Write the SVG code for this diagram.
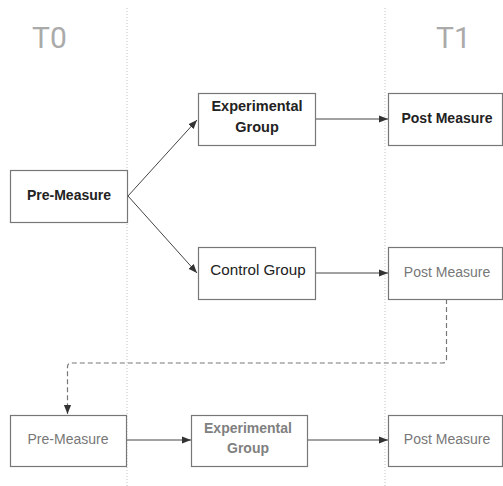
<svg xmlns="http://www.w3.org/2000/svg" width="503" height="486" viewBox="0 0 503 486">
  <defs>
    <marker id="arrow" viewBox="0 0 10 10" refX="10" refY="5" markerWidth="9" markerHeight="9" markerUnits="userSpaceOnUse" orient="auto">
      <path d="M0,1 L10,5 L0,9 Z" fill="#333"/>
    </marker>
    <style>
      .box { fill: #fff; stroke: #777; stroke-width: 1.2; }
      .lbl { font-family: "Liberation Sans", Arial, sans-serif; font-size: 14px; text-anchor: middle; dominant-baseline: central; }
      .dark { fill: #222; }
      .bold { font-weight: bold; }
      .grey { fill: #777; }
      .semi { font-weight: 600; fill: #808080; }
      .time { font-family: Roboto, "Liberation Sans", sans-serif; font-weight: 400; font-size: 30px; fill: #aaa; }
      .lane { stroke: #c4c4c4; stroke-width: 1; stroke-dasharray: 1 2; }
      .edge { fill: none; stroke: #444; stroke-width: 1; marker-end: url(#arrow); }
      .dash { fill: none; stroke: #777; stroke-width: 1.2; stroke-dasharray: 5 3; marker-end: url(#arrow); }
    </style>
  </defs>
  <rect width="503" height="486" fill="#fff"/>

  <!-- time lanes -->
  <g id="lanes">
    <line class="lane" x1="127" y1="8" x2="127" y2="486"/>
    <line class="lane" x1="385" y1="8" x2="385" y2="486"/>
    <text class="time" x="32" y="48">T0</text>
    <text class="time" x="436" y="48">T1</text>
  </g>

  <!-- connectors -->
  <g id="connectors">
    <line class="edge" x1="128" y1="196" x2="197" y2="120"/>
    <line class="edge" x1="128" y1="196" x2="197" y2="273"/>
    <line class="edge" x1="315" y1="119" x2="388" y2="119"/>
    <line class="edge" x1="315" y1="273" x2="388" y2="273"/>
    <path class="dash" d="M446.5,299 V359 Q446.5,363 442.5,363 H71.5 Q67.5,363 67.5,367 V414"/>
    <line class="edge" x1="127" y1="440" x2="191" y2="440"/>
    <line class="edge" x1="307" y1="440" x2="388" y2="440"/>
  </g>

  <!-- T0 pre-measure -->
  <g id="pre-measure">
    <rect class="box" x="10.5" y="170.5" width="117" height="52"/>
    <text class="lbl dark bold" x="69" y="195">Pre-Measure</text>
  </g>

  <g id="experimental-group">
    <rect class="box" x="198.5" y="93.5" width="117" height="52"/>
    <text class="lbl dark bold" x="257" y="106" style="font-size:14.5px">Experimental</text>
    <text class="lbl dark bold" x="257" y="127" style="font-size:14.5px">Group</text>
  </g>

  <g id="control-group">
    <rect class="box" x="198.5" y="247.5" width="117" height="52"/>
    <text class="lbl dark" x="258" y="269" style="font-size:15.2px">Control Group</text>
  </g>

  <!-- T1 post-measures -->
  <g id="post-measure-experimental">
    <rect class="box" x="388.5" y="93.5" width="114" height="52"/>
    <text class="lbl dark bold" x="447" y="118">Post Measure</text>
  </g>

  <g id="post-measure-control">
    <rect class="box" x="388.5" y="247.5" width="114" height="52"/>
    <text class="lbl grey" x="447" y="272">Post Measure</text>
  </g>

  <!-- follow-up sequence -->
  <g id="pre-measure-2">
    <rect class="box" x="10.5" y="415.5" width="116" height="51"/>
    <text class="lbl grey" x="68" y="439">Pre-Measure</text>
  </g>

  <g id="experimental-group-2">
    <rect class="box" x="191.5" y="415.5" width="116" height="51"/>
    <text class="lbl semi" x="248" y="428">Experimental</text>
    <text class="lbl semi" x="248" y="448">Group</text>
  </g>

  <g id="post-measure-2">
    <rect class="box" x="388.5" y="415.5" width="114" height="51"/>
    <text class="lbl grey" x="447" y="439">Post Measure</text>
  </g>
</svg>
